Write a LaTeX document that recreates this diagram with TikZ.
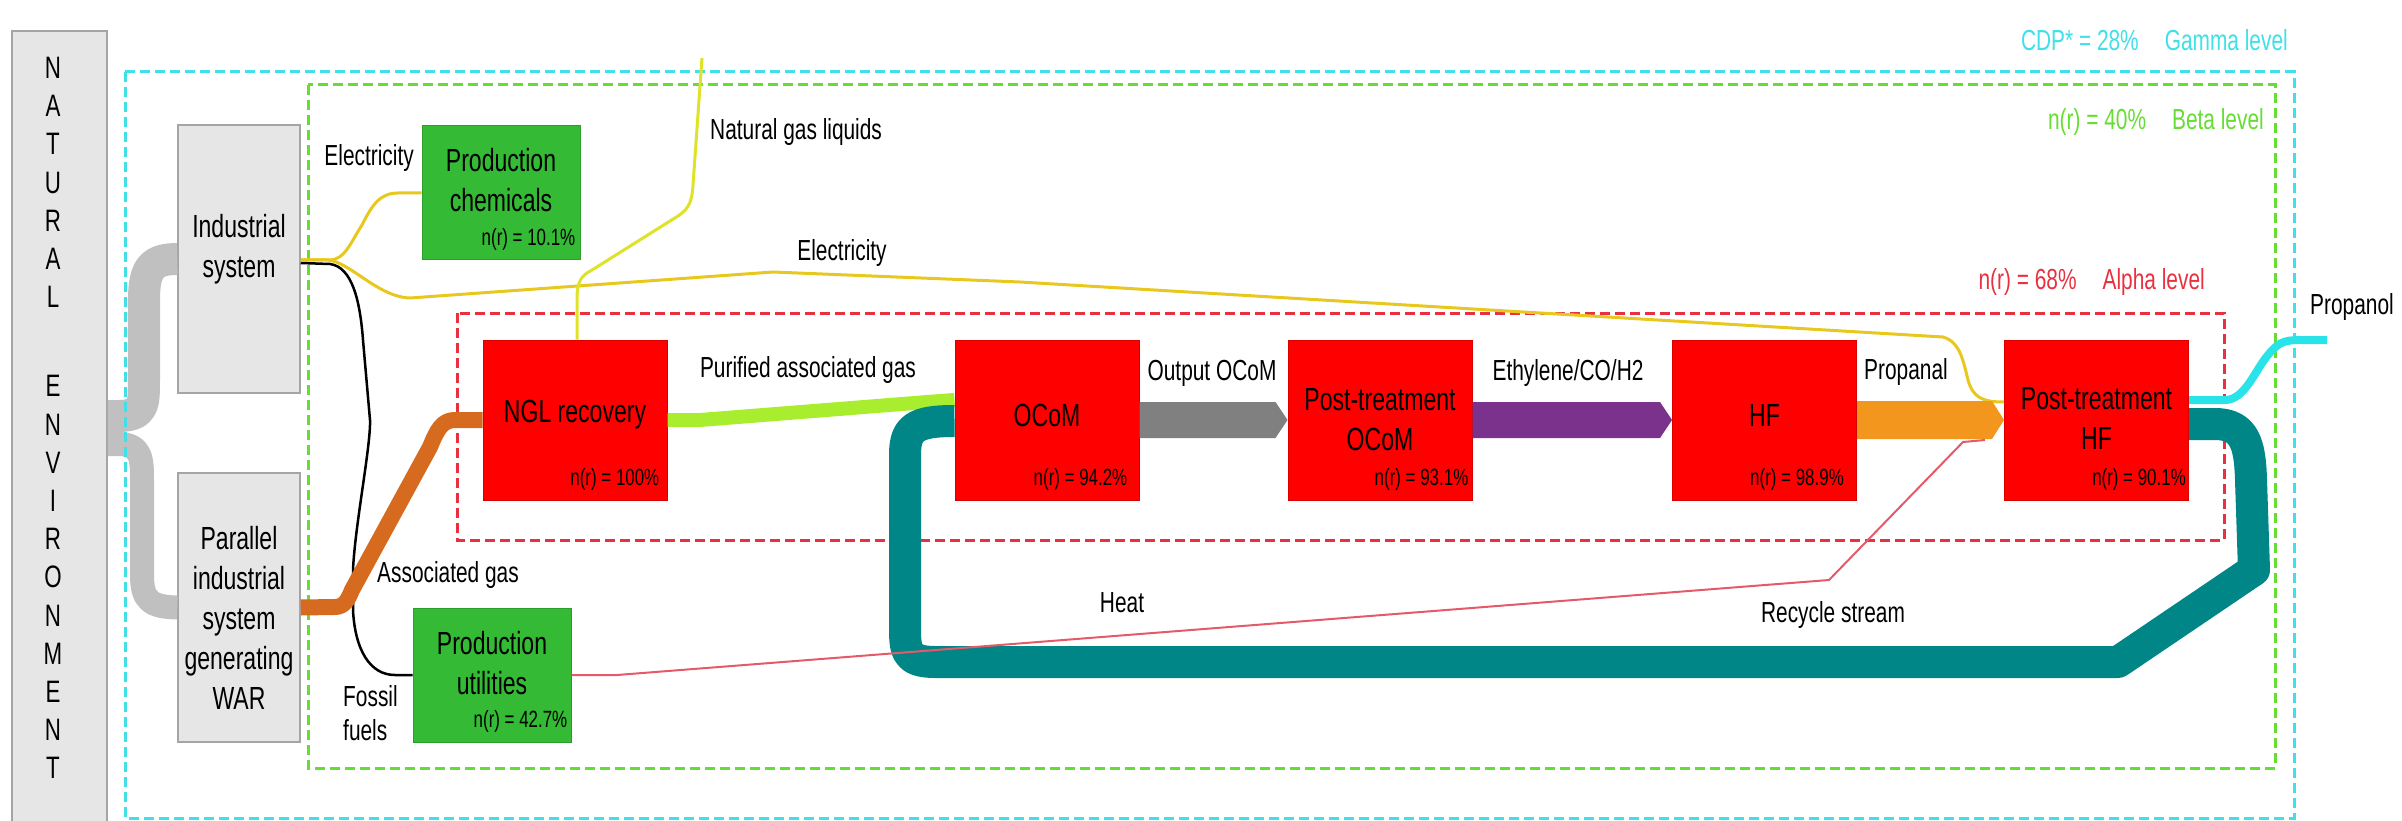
\documentclass[tikz,border=0pt]{standalone}
\usepackage{fontspec}
\setmainfont[FakeStretch=0.72]{Liberation Sans}
\usepackage{tikz}
\usetikzlibrary{arrows.meta}
\usetikzlibrary{positioning}

\definecolor{natgray}{RGB}{230,230,230}
\definecolor{boxline}{RGB}{165,165,165}
\definecolor{flowgray}{RGB}{192,192,192}
\definecolor{procred}{RGB}{255,0,0}
\definecolor{utilgreen}{RGB}{52,186,52}
\definecolor{gammacyan}{RGB}{64,224,232}
\definecolor{betagreen}{RGB}{102,221,51}
\definecolor{alphared}{RGB}{232,48,64}
\definecolor{elecyellow}{RGB}{232,200,30}
\definecolor{nglyellow}{RGB}{222,226,40}
\definecolor{assocorange}{RGB}{214,106,30}
\definecolor{purgreen}{RGB}{168,238,46}
\definecolor{outgray}{RGB}{128,128,128}
\definecolor{ethpurple}{RGB}{122,50,140}
\definecolor{propanalorange}{RGB}{243,150,30}
\definecolor{recycleteal}{RGB}{0,134,134}
\definecolor{propanolcyan}{RGB}{40,228,232}
\definecolor{heatred}{RGB}{228,90,105}

\newcommand{\unitfont}{\fontsize{32}{40}\selectfont}
\newcommand{\flowfont}{\fontsize{29}{34}\selectfont}
\newcommand{\efffont}{\fontsize{23.5}{28}\selectfont}
\newcommand{\levelfont}{\fontsize{29}{34}\selectfont}

% fat stream with a chevron tip: colour, from, to, half width
\newcommand{\fatflow}[4]{%
  \fill[#1] ([yshift=#4]#2.east) -- ([xshift=-12pt,yshift=#4]#3.west) -- (#3.west)
    -- ([xshift=-12pt,yshift=-#4]#3.west) -- ([yshift=-#4]#2.east) -- cycle;}

\begin{document}
\begin{tikzpicture}[x=1pt,y=-1pt,
  sysbox/.style={draw=boxline,fill=natgray,line width=1.5pt,minimum width=122pt,inner sep=0pt},
  unitbox/.style={fill=procred,draw=procred!85!black,line width=1pt,minimum width=184pt,minimum height=160pt,inner sep=0pt},
  auxbox/.style={fill=utilgreen,draw=utilgreen!85!black,line width=1pt,minimum width=158pt,minimum height=134pt,inner sep=0pt},
  title/.style={font=\unitfont,align=center,inner sep=0pt},
  eff/.style={font=\efffont,inner sep=0pt},
  lvl/.style={line width=3pt,dash pattern=on 10pt off 5pt},
  lvltext/.style={font=\levelfont,anchor=east,inner sep=0pt},
  flowlbl/.style={font=\flowfont,inner sep=0pt},
  stream/.style={line join=round}]

\useasboundingbox (0,0) rectangle (2402,821);

%natural environment
\node[draw=boxline,fill=natgray,line width=1.5pt,minimum width=95pt,minimum height=810pt,inner sep=0pt] (nat) at (59.5,436) {};
\node[font=\fontsize{31}{38.2}\selectfont,align=center,inner sep=0pt] (natlbl) at (53,418)
  {N\\A\\T\\U\\R\\A\\L\\[51pt]E\\N\\V\\I\\R\\O\\N\\M\\E\\N\\T};

%systems
\node[sysbox,minimum height=268pt] (ind) at (239,259) {};
\node[sysbox,minimum height=269pt] (par) at (239,607.5) {};
\node[title] (indtxt) at ([yshift=10pt]ind.center) {Industrial\\system};
\node[title] (partxt) at ([yshift=-10pt]par.center) {Parallel\\industrial\\system\\generating\\WAR};

%resources taken from the environment
\draw[stream,flowgray,line width=32pt] ([yshift=20pt]nat.east) -- (118,416) .. controls (144,416) and (144,405) .. (144,380) -- (144,300) .. controls (144,268) and (152,259) .. (ind.west);
\draw[stream,flowgray,line width=24pt] ([yshift=-8pt]nat.east) -- (118,444) .. controls (142,444) and (142,460) .. (142,480) -- (142,575) .. controls (142,600) and (150,607) .. (par.west);

%level frames
\draw[lvl,gammacyan] (125,72) rectangle (2294,818);
\draw[lvl,betagreen] (308,85) rectangle (2275,768);
\draw[lvl,alphared] (457,313) rectangle (2224,540);

\node[lvltext,gammacyan] (gammalbl) at (2288,40) {CDP* = 28\%\hspace{26pt}Gamma level};
\node[lvltext,betagreen] (betalbl) at (2264,122) {n(r) = 40\%\hspace{26pt}Beta level};
\node[lvltext,alphared] (alphalbl) at (2205,282) {n(r) = 68\%\hspace{26pt}Alpha level};

%auxiliary production
\node[auxbox] (chem) at (501,193) {};
\node[auxbox] (util) at (492,675) {};
\node[title] (chemtxt) at ([yshift=13pt]chem.center) {Production\\chemicals};
\node[title] (utiltxt) at ([yshift=12pt]util.center) {Production\\utilities};
\node[eff,above left=10pt and 5pt of chem.south east] (chemr) {n(r) = 10.1\%};
\node[eff,above left=10pt and 4pt of util.south east] (utilr) {n(r) = 42.7\%};

%process chain
\node[unitbox] (ngl) at (575,420) {};
\node[unitbox] (ocom) at (1047,420) {};
\node[unitbox] (ptocom) at (1380,420) {};
\node[unitbox] (hf) at (1764.5,420) {};
\node[unitbox] (pthf) at (2096.5,420) {};

\node[title] (ngltxt) at ([yshift=5pt]ngl.center) {NGL recovery};
\node[title] (ocomtxt) at ([yshift=5pt]ocom.center) {OCoM};
\node[title] (ptocomtxt) at (ptocom.center) {Post-treatment\\OCoM};
\node[title] (hftxt) at ([yshift=5pt]hf.center) {HF};
\node[title] (pthftxt) at ([yshift=2pt]pthf.center) {Post-treatment\\HF};

\node[eff,above left=10pt and 8pt of ngl.south east] (nglr) {n(r) = 100\%};
\node[eff,above left=10pt and 12pt of ocom.south east] (ocomr) {n(r) = 94.2\%};
\node[eff,above left=10pt and 4pt of ptocom.south east] (ptocomr) {n(r) = 93.1\%};
\node[eff,above left=10pt and 13pt of hf.south east] (hfr) {n(r) = 98.9\%};
\node[eff,above left=10pt and 3pt of pthf.south east] (pthfr) {n(r) = 90.1\%};

%free ends
\coordinate (nglout) at (702,58);
\coordinate (prod) at (2327,340);
\coordinate (heatin) at (1985,440);

%electricity and fossil fuels
\draw[stream,elecyellow,line width=3pt] ([yshift=-1pt]ind.east) -- (330,260) .. controls (345,260) and (352,240) .. (362,225) .. controls (372,205) and (380,193) .. (398,193) -- (chem.west);
\draw[stream,elecyellow,line width=3pt] ([yshift=-1pt]ind.east) -- (328,260) .. controls (350,262) and (378,297) .. (410,298) -- (773,272) -- (1020,282) -- (1943,337) .. controls (1960,342) and (1963,360) .. (1968,380) .. controls (1973,398) and (1983,402) .. ([yshift=18pt]pthf.west);
\draw[stream,black,line width=2.5pt] ([yshift=-4pt]ind.east) -- (330,264) .. controls (352,267) and (360,300) .. (363,340) -- (370,420) .. controls (371,445) and (355,525) .. (353,570) -- (353,610) .. controls (355,650) and (370,675) .. (395,675) -- (util.west);

%gas streams
\draw[stream,assocorange,line width=16pt] (par.east) -- (335,607) .. controls (344,607) and (348,600) .. (352,590) -- (430,447) .. controls (437,430) and (442,420) .. (455,420) -- (ngl.west);
\draw[stream,nglyellow,line width=3pt] ([xshift=2pt]ngl.north) -- (577,300) .. controls (577,283) and (580,276) .. (592,270) -- (678,216) .. controls (690,208) and (692,200) .. (693,185) -- (nglout);
\draw[stream,purgreen,line width=14pt] (ngl.east) -- (700,420) -- (940,401) -- ([yshift=20pt]ocom.west);

%recycle
\draw[stream,recycleteal,line width=32pt] ([yshift=-4pt]pthf.east) -- (2215,424) .. controls (2245,424) and (2250,445) .. (2251,480) -- (2254,570) -- (2118,662) -- (935,662) .. controls (905,662) and (905,650) .. (905,625) -- (905,455) .. controls (905,428) and (915,421) .. ([yshift=-1pt]ocom.west);

%heat
\draw[stream,heatred,line width=2pt] (util.east) -- (617,675) -- (1829,580) -- (1963,442) -- (heatin);

%main line
\fatflow{outgray}{ocom}{ptocom}{18pt}
\fatflow{ethpurple}{ptocom}{hf}{18pt}
\fatflow{propanalorange}{hf}{pthf}{19pt}

%product
\draw[stream,propanolcyan,line width=8pt] ([yshift=20pt]pthf.east) -- (2225,400) .. controls (2245,400) and (2255,370) .. (2268,355) .. controls (2278,343) and (2283,340) .. (2300,340) -- (prod);

%stream labels
\node[flowlbl,anchor=east] (elec1) at (414,158) {Electricity};
\node[flowlbl,anchor=west] (ngllbl) at (710,132) {Natural gas liquids};
\node[flowlbl] (elec2) at (842,253) {Electricity};
\node[flowlbl] (purlbl) at (808,370) {Purified associated gas};
\node[flowlbl] (outlbl) at (1212,373) {Output OCoM};
\node[flowlbl] (ethlbl) at (1568,373) {Ethylene/CO/H2};
\node[flowlbl] (prplbl) at (1906,372) {Propanal};
\node[flowlbl,anchor=west] (asslbl) at (377,575) {Associated gas};
\node[flowlbl,anchor=west,align=left] (fossil) at (343,713) {Fossil\\fuels};
\node[flowlbl] (heatlbl) at (1122,603) {Heat};
\node[flowlbl] (reclbl) at (1833,615) {Recycle stream};
\node[flowlbl] (prodlbl) at (2352,307) {Propanol};

\end{tikzpicture}
\end{document}
